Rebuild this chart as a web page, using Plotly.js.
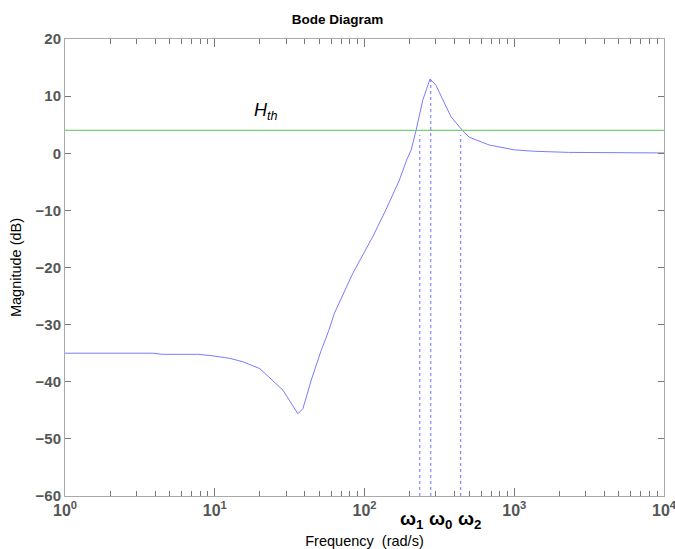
<!DOCTYPE html>
<html>
<head>
<meta charset="utf-8">
<script src="https://cdn.plot.ly/plotly-3.0.1.min.js"></script>
<style>html,body{margin:0;padding:0;background:#fff;}#chart{width:675px;height:549px;}</style>
</head>
<body>
<div id="chart"></div>
<script>
// Frequency response (rad/s) and magnitude (dB)
const freq = [1, 3.86, 4.5, 7.7, 9.3, 12.6, 15.4, 20, 28.6, 35.9, 38.8, 44.1, 51.4, 57.8, 63, 83.6, 113.6, 139, 171, 191, 205, 221, 245, 274, 300, 378, 452, 501, 681, 1000, 1350, 2300, 10000];
const mag  = [-35, -35, -35.2, -35.2, -35.4, -35.9, -36.5, -37.7, -41.5, -45.6, -44.7, -39.7, -34.5, -31, -28, -21, -14.6, -9.9, -4.7, -1.2, 0.6, 4, 9.3, 13, 11.9, 6.4, 3.95, 2.8, 1.44, 0.6, 0.35, 0.15, 0.05];

// Threshold line H_th
const thresholdFreq = [1, 10000];
const thresholdMag = [4, 4];

// Marker frequencies omega1, omega0, omega2
const markerNames = ["ω<sub>1</sub>", "ω<sub>0</sub>", "ω<sub>2</sub>"];
const markerFreq = [234, 277, 439];
const markerTop = [3.2, 12.9, 3.2];
const markerLabelFreq = [209, 321, 501];

// Axis ticks
const xTickVals = [1, 10, 100, 1000, 10000];
const xTickText = ["10<sup>0</sup>", "10<sup>1</sup>", "10<sup>2</sup>", "10<sup>3</sup>", "10<sup>4</sup>"];
const xMinorMult = [2, 3, 4, 5, 6, 7, 8, 9];
const yTickVals = [-60, -50, -40, -30, -20, -10, 0, 10, 20];

const xMinorVals = [];
xTickVals.slice(0, -1).forEach(d => xMinorMult.forEach(m => xMinorVals.push(d * m)));

const traces = [
  {x: freq, y: mag, type: 'scatter', mode: 'lines', line: {color: '#7b7bff', width: 1}, hoverinfo: 'skip'},
  {x: thresholdFreq, y: thresholdMag, xaxis: 'x2', type: 'scatter', mode: 'lines', line: {color: '#77d077', width: 1.2}, hoverinfo: 'skip'}
];
markerFreq.forEach((f, i) => {
  traces.push({x: [f, f], y: [-60, markerTop[i]], type: 'scatter', mode: 'lines',
    line: {color: '#6f6fff', width: 1, dash: 'dot'}, hoverinfo: 'skip'});
});

const annotations = [
  {x: Math.log10(22), y: 7.3, xref: 'x', yref: 'y', text: '<i>H</i><sub><i>th</i></sub>',
   showarrow: false, font: {family: 'Liberation Sans, Arial, sans-serif', size: 18, color: '#000'}}
];
markerNames.forEach((t, i) => {
  annotations.push({x: Math.log10(markerLabelFreq[i]), y: -0.052, xref: 'x', yref: 'paper', text: '<b>' + t + '</b>',
    showarrow: false, yanchor: 'middle', font: {family: 'Liberation Sans, Arial, sans-serif', size: 19, color: '#000'}});
});

const layout = {
  width: 675, height: 549,
  margin: {l: 65, r: 11, t: 39, b: 53},
  paper_bgcolor: '#fff', plot_bgcolor: '#fff',
  showlegend: false,
  title: {text: '<b>Bode Diagram</b>', x: 0.5, xanchor: 'center', y: 0.965, yanchor: 'middle',
    font: {family: 'Liberation Sans, Arial, sans-serif', size: 13.5, color: '#000'}},
  xaxis: {
    type: 'log', range: [0, 4], tickvals: xTickVals, ticktext: xTickText,
    ticks: 'inside', ticklen: 8, tickcolor: '#777', tickwidth: 1,
    showline: true, linecolor: '#aaa', linewidth: 1, mirror: 'ticks',
    showgrid: false, zeroline: false, ticklabeloverflow: 'allow',
    tickfont: {family: 'Liberation Sans, Arial, sans-serif', size: 16, color: '#555', weight: 'bold'},
    title: {text: 'Frequency  (rad/s)', standoff: 20, font: {family: 'Liberation Sans, Arial, sans-serif', size: 14.5, color: '#000'}}
  },
  xaxis2: {
    type: 'log', range: [0, 4], overlaying: 'x', side: 'bottom', anchor: 'y',
    tickmode: 'array', tickvals: xMinorVals, ticktext: xMinorVals.map(() => ''),
    ticks: 'inside', ticklen: 5, tickcolor: '#777', tickwidth: 1,
    showline: true, linecolor: '#aaa', linewidth: 1, mirror: 'ticks',
    showticklabels: true, showgrid: false, zeroline: false
  },
  yaxis: {
    range: [-60, 20], tickvals: yTickVals,
    ticks: 'inside', ticklen: 6, tickcolor: '#777',
    showline: true, linecolor: '#aaa', linewidth: 1, mirror: 'ticks',
    showgrid: false, zeroline: false,
    tickfont: {family: 'Liberation Sans, Arial, sans-serif', size: 15, color: '#555', weight: 'bold'},
    title: {text: 'Magnitude (dB)', standoff: 10, font: {family: 'Liberation Sans, Arial, sans-serif', size: 14.5, color: '#000'}}
  },
  annotations: annotations
};

Plotly.newPlot('chart', traces, layout, {displayModeBar: false, staticPlot: true});
</script>
</body>
</html>
